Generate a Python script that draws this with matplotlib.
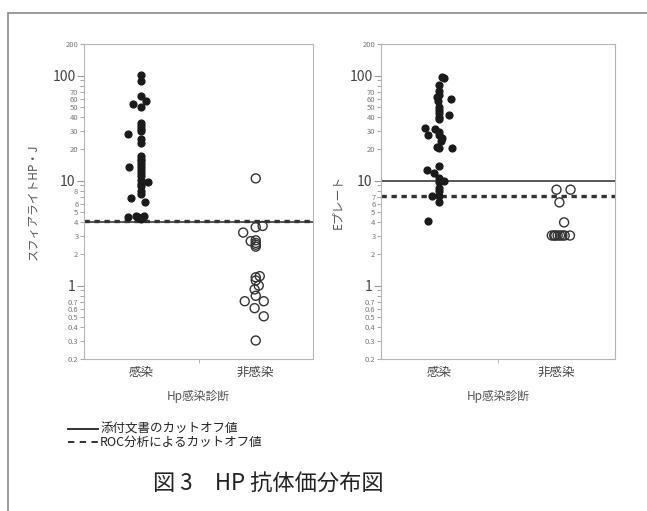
import numpy as np
from matplotlib import pyplot as plt
from matplotlib.lines import Line2D
from matplotlib.patches import Rectangle

plt.rcParams['font.family'] = ['Noto Sans CJK JP', 'DejaVu Sans']

categories = ['感染', '非感染']

# スフィアライト H.pylori-J  (value, jitter)
sph_pos = [102, 88, 64, 54, 57, 50, 28, 35, 33, 31, 30, 25, 23, 17, 16, 15.4, 14.3,
           13.5, 13.5, 12.5, 11.7, 11, 10.2, 9.7, 9.2, 8.8, 7.9, 7.5, 6.9, 6.3,
           4.5, 4.6, 4.4, 4.6, 4.3, 4.5]
sph_pos_jit = [0, 0, 0, -0.07, 0.044, 0, -0.12, 0, 0, 0, 0, 0, 0, 0, 0, 0, 0,
               0, -0.11, 0, 0, 0, 0, 0.06, 0, 0, 0, 0, -0.09, 0.035,
               -0.12, -0.044, -0.01, 0.026, 0, -0.026]
sph_neg = [10.5, 3.6, 3.7, 3.2, 2.65, 2.7, 2.55, 2.35, 2.45, 1.2, 1.23, 1.12, 1.0,
           0.92, 0.80, 0.71, 0.71, 0.61, 0.51, 0.30]
sph_neg_jit = [0, 0, 0.06, -0.11, -0.044, 0, 0, 0, 0, 0, 0.035, 0, 0.026,
               -0.01, 0, -0.096, 0.07, -0.01, 0.07, 0]

# Eプレート
ep_pos = [97, 95, 82, 72, 65, 63, 60, 57, 50, 47, 44, 42.5, 40.5, 38.5, 32, 31, 29,
          27.3, 27, 25.7, 24, 21, 20.3, 20.3, 13.7, 12.6, 11.7, 10.6, 9.9, 9.7,
          8.5, 7.9, 7.2, 7.2, 6.2, 4.1]
ep_pos_jit = [0.02, 0.035, 0, 0, 0, -0.025, 0.095, -0.01, 0, 0, 0, 0.077, 0, 0,
              -0.12, -0.035, 0, -0.1, 0, 0.02, 0.01, -0.02, 0, 0.11, 0, -0.11,
              -0.05, 0, 0.035, 0, 0, 0, -0.06, 0, 0, -0.095]
ep_neg = [8.2, 8.2, 6.2, 4.0, 3, 3, 3, 3, 3, 3, 3, 3]
ep_neg_jit = [0, 0.12, 0.025, 0.065, -0.04, -0.02, -0.01, 0.01, 0.03, 0.05, 0.07, 0.115]

cutoff_doc = [4.0, 10]     # 添付文書のカットオフ値
cutoff_roc = [4.1, 7.2]    # ROC分析によるカットオフ値
ylabels = ['スフィアライトHP・J', 'Eプレート']
minor_shown = [[0.2, 0.3, 0.4, 0.5, 0.6, 0.7, 2, 3, 4, 5, 6, 8, 20, 30, 40, 50, 60, 70, 200],
               [0.2, 0.3, 0.4, 0.5, 0.6, 0.7, 2, 3, 4, 5, 6, 7, 20, 30, 40, 50, 60, 70, 200]]

W, H = 647, 511
fig = plt.figure(figsize=(W / 100, H / 100), dpi=100)
fig.add_artist(Rectangle((8 / W, -0.1), 1.2, 1 - 13 / H + 0.1, transform=fig.transFigure,
                         fill=False, edgecolor='#8a8a8a', lw=1.2))

ax1 = fig.add_axes([84 / W, 1 - 359 / H, 229 / W, 315 / H])
ax2 = fig.add_axes([381 / W, 1 - 359 / H, 234 / W, 315 / H])

panels = [(ax1, sph_pos, sph_pos_jit, sph_neg, sph_neg_jit),
          (ax2, ep_pos, ep_pos_jit, ep_neg, ep_neg_jit)]
minor_all = [m * d for d in [0.1, 1, 10, 100] for m in range(2, 10)]
minor_all = [v for v in minor_all if 0.2 <= v <= 200]
ylabel_pad = [9, 4]

for i, (ax, pos, pjit, neg, njit) in enumerate(panels):
    ax.set_yscale('log')
    ax.set_ylim(0.2, 200)
    ax.set_xlim(-0.5, 1.5)
    ax.axhline(cutoff_doc[i], color='#4a4a4a', lw=1.3, zorder=2)
    ax.axhline(cutoff_roc[i], color='#333333', lw=2.4, ls=(0, (1.6, 1.4)), zorder=2)
    ax.scatter(np.array(pjit) + 0, pos, s=24, color='#1a1a1a', zorder=3)
    ax.scatter(np.array(njit) + 1, neg, s=42, facecolor='none', edgecolor='#333333',
               lw=1.0, zorder=3)
    ax.set_xticks([0, 1], categories)
    ax.set_xticks([0.5], minor=True)
    ax.tick_params(axis='x', which='major', length=0, labelsize=9, labelcolor='#444444', pad=5)
    ax.tick_params(axis='x', which='minor', length=3, color='#aaaaaa')
    ax.set_yticks([1, 10, 100], ['1', '10', '100'])
    labs = [('%g' % v) if any(abs(v - s) < 1e-9 for s in minor_shown[i]) else '' for v in minor_all]
    ax.set_yticks(minor_all, labs, minor=True)
    ax.tick_params(axis='y', which='major', length=5, labelsize=10, labelcolor='#444444',
                   color='#999999', pad=1)
    ax.tick_params(axis='y', which='minor', length=3, labelsize=5.5, labelcolor='#777777',
                   color='#999999', pad=1)
    for sp in ax.spines.values():
        sp.set_color('#b5b5b5')
        sp.set_linewidth(0.8)
    ax.set_xlabel('Hp感染診断', fontsize=8.5, color='#555555', labelpad=8)
    ax.set_ylabel(ylabels[i], fontsize=8.5, color='#555555', labelpad=ylabel_pad[i])

# legend
fig.add_artist(Line2D([68 / W, 98 / W], [1 - 429 / H] * 2, transform=fig.transFigure,
                      color='#222222', lw=1.3))
fig.add_artist(Line2D([68 / W, 98 / W], [1 - 442 / H] * 2, transform=fig.transFigure,
                      color='#222222', lw=1.3, ls=(0, (3.5, 3))))
fig.text(100 / W, 1 - 429 / H, '添付文書のカットオフ値', fontsize=9, va='center', color='#222222')
fig.text(100 / W, 1 - 442 / H, 'ROC分析によるカットオフ値', fontsize=9, va='center', color='#222222')

fig.text(268 / W, 1 - 483 / H, '図 3　HP 抗体価分布図', fontsize=16, ha='center', va='center',
         color='#222222')

fig.savefig('out.png', dpi=100)
